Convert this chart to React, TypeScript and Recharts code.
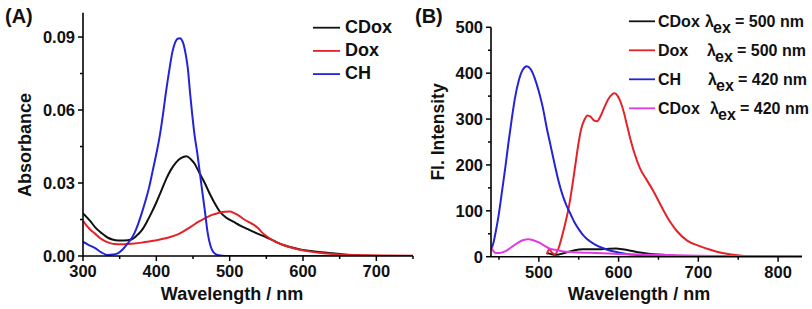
import React from 'react';
import { LineChart, Line, XAxis, YAxis, Legend } from 'recharts';

const FONT = '"Liberation Sans", Arial, Helvetica, sans-serif';

// ---------- Panel A: absorbance (wavelength nm, absorbance) ----------
const absCDox: [number, number][] = [
  [300, 0.0175], [305, 0.016], [310, 0.0143], [316, 0.012], [325, 0.0095], [334, 0.0075],
  [340, 0.0068], [348, 0.0064], [356, 0.0064], [366, 0.0068], [373, 0.0083], [380, 0.0105],
  [387, 0.014], [393, 0.0175], [400, 0.022], [407, 0.027], [414, 0.032], [420, 0.0355],
  [427, 0.0385], [434, 0.0403], [441, 0.041], [447, 0.0398], [452, 0.038], [459, 0.034],
  [466, 0.03], [473, 0.0255], [480, 0.0215], [486, 0.0185], [495, 0.0158], [505, 0.0141],
  [515, 0.0124], [527, 0.0107], [538, 0.0092], [550, 0.0077], [562, 0.006], [573, 0.0045],
  [585, 0.0035], [596, 0.0027], [607, 0.0022], [618, 0.0018], [630, 0.0014], [641, 0.0011],
  [653, 0.0007], [664, 0.0004], [675, 0.0002], [690, 0.0001],
];
const absDox: [number, number][] = [
  [300, 0.0145], [305, 0.0125], [310, 0.0108], [316, 0.0093], [323, 0.0074], [330, 0.0061],
  [337, 0.0053], [343, 0.0049], [352, 0.0048], [361, 0.0049], [370, 0.0051], [380, 0.0055],
  [390, 0.006], [402, 0.0066], [411, 0.0072], [420, 0.0079], [430, 0.009], [439, 0.0105],
  [448, 0.0122], [457, 0.014], [466, 0.0155], [475, 0.0168], [486, 0.0178], [493, 0.0182],
  [500, 0.0183], [507, 0.0175], [514, 0.0163], [520, 0.015], [527, 0.0138], [533, 0.0128],
  [539, 0.0114], [544, 0.0097], [550, 0.0082], [560, 0.0062], [573, 0.0046], [585, 0.0034],
  [596, 0.0026], [610, 0.0018], [625, 0.0012], [641, 0.0008], [660, 0.0005], [686, 0.0003],
  [710, 0.0002], [750, 0.0001],
];
const absCH: [number, number][] = [
  [300, 0.0058], [308, 0.0045], [316, 0.0033], [325, 0.0015], [334, 0.0004], [341, 0.0006],
  [348, 0.0012], [355, 0.003], [361, 0.0052], [366, 0.0072], [370, 0.0093], [375, 0.013],
  [380, 0.0175], [385, 0.0225], [390, 0.028], [395, 0.035], [400, 0.042], [405, 0.05],
  [409, 0.058], [413, 0.067], [418, 0.077], [422, 0.084], [426, 0.088], [429, 0.0893],
  [432, 0.0895], [436, 0.088], [440, 0.083], [443, 0.077], [446, 0.067], [449, 0.058],
  [452, 0.05], [456, 0.042], [459, 0.035], [462, 0.028], [466, 0.019], [470, 0.0095],
  [474, 0.004], [478, 0.0015], [485, 0.0003], [495, 0], [550, 0], [600, 0], [650, 0],
  [700, 0], [750, 0],
];
const absTicks = [0, 0.015, 0.03, 0.045, 0.06, 0.075, 0.09];
const absTickLabels = ['0.00', '', '0.03', '', '0.06', '', '0.09'];
const absWlTicks = [300, 350, 400, 450, 500, 550, 600, 650, 700, 750];
const absWlLabels = ['300', '', '400', '', '500', '', '600', '', '700', ''];

// ---------- Panel B: fluorescence (wavelength nm, intensity) ----------
const flCDox500: [number, number][] = [
  [510, 8], [515, 6], [520, 4], [525, 5], [530, 7], [538, 11], [545, 14], [555, 16],
  [565, 16], [575, 16], [585, 17], [597, 18], [605, 16], [615, 13], [627, 9], [640, 6],
  [656, 4], [670, 2], [690, 1], [720, 0.5], [830, 0],
];
const flDox500: [number, number][] = [
  [510, 5], [513, 16], [516, 10], [520, 5], [525, 20], [529, 44], [533, 72], [538, 112],
  [542, 155], [546, 203], [550, 250], [553, 278], [557, 298], [561, 308], [565, 305],
  [569, 297], [573, 295], [577, 305], [582, 325], [587, 343], [592, 354], [595, 356],
  [599, 350], [603, 335], [607, 312], [611, 283], [615, 255], [620, 225], [627, 192],
  [635, 168], [643, 145], [650, 122], [656, 102], [665, 75], [673, 56], [686, 35],
  [700, 24], [715, 15], [730, 8], [745, 4], [755, 2], [770, 1], [830, 0],
];
const flCH420: [number, number][] = [
  [440, 15], [443, 30], [446, 55], [450, 95], [454, 145], [458, 195], [462, 250], [466, 300],
  [470, 345], [475, 385], [480, 408], [485, 415], [490, 408], [495, 388], [500, 360],
  [505, 325], [510, 280], [515, 240], [520, 200], [525, 163], [530, 133], [535, 110],
  [540, 92], [545, 74], [550, 60], [555, 48], [560, 39], [570, 27], [580, 19], [590, 13],
  [600, 9], [610, 6], [620, 4], [640, 2], [660, 1], [700, 0.5], [750, 0], [830, 0],
];
const flCDox420: [number, number][] = [
  [440, 22], [443, 12], [446, 8], [450, 8], [455, 10], [460, 14], [465, 20], [470, 26],
  [475, 32], [480, 36], [487, 38], [493, 36], [500, 31], [507, 24], [513, 18], [520, 15],
  [529, 12], [540, 10], [551, 9], [572, 8], [600, 6], [620, 5], [650, 4], [700, 2],
  [750, 1], [830, 0.5],
];
const flTicks = [0, 50, 100, 150, 200, 250, 300, 350, 400, 450, 500];
const flTickLabels = ['0', '', '100', '', '200', '', '300', '', '400', '', '500'];
const flWlTicks = [450, 500, 550, 600, 650, 700, 750, 800];
const flWlLabels = ['', '500', '', '600', '', '700', '', '800'];

const toRows = (pts: [number, number][]) => pts.map(([x, y]) => ({ x, y }));

const C_BLACK = '#111111';
const C_RED = '#e42228';
const C_BLUE = '#2424d6';
const C_MAG = '#e23ae2';

const makeXTick = (ticks: number[], labels: string[]) => (props: any) => {
  const { x, y, payload } = props;
  const i = ticks.indexOf(payload.value);
  const lab = i >= 0 ? labels[i] : '';
  return (
    <g>
      <line x1={x} y1={y} x2={x} y2={y + (lab ? 5 : 3)} stroke="#000" strokeWidth={1.5} />
      {lab ? (
        <text x={x} y={y + 21} textAnchor="middle" fontFamily={FONT} fontWeight="bold" fontSize={16.5} fill="#111">
          {lab}
        </text>
      ) : null}
    </g>
  );
};

const makeYTick = (ticks: number[], labels: string[]) => (props: any) => {
  const { x, y, payload } = props;
  const i = ticks.indexOf(payload.value);
  const lab = i >= 0 ? labels[i] : '';
  return (
    <g>
      <line x1={x} y1={y} x2={x - (lab ? 5 : 3)} y2={y} stroke="#000" strokeWidth={1.5} />
      {lab ? (
        <text x={x - 8} y={y + 6} textAnchor="end" fontFamily={FONT} fontWeight="bold" fontSize={16.5} fill="#111">
          {lab}
        </text>
      ) : null}
    </g>
  );
};

const legendA = () => {
  const items = [
    { name: 'CDox', color: C_BLACK },
    { name: 'Dox', color: C_RED },
    { name: 'CH', color: C_BLUE },
  ];
  return (
    <svg width={100} height={80} style={{ display: 'block' }}>
      {items.map((it, i) => (
        <g key={it.name}>
          <line x1={0} x2={27} y1={15.7 + i * 23.2} y2={15.7 + i * 23.2} stroke={it.color} strokeWidth={1.8} />
          <text x={32} y={21.3 + i * 22.7} fontFamily={FONT} fontWeight="bold" fontSize={18} fill="#111">
            {it.name}
          </text>
        </g>
      ))}
    </svg>
  );
};

const legendB = () => {
  const items = [
    { name: 'CDox', color: C_BLACK, ex: '500', lx: 705 },
    { name: 'Dox', color: C_RED, ex: '500', lx: 707 },
    { name: 'CH', color: C_BLUE, ex: '420', lx: 708 },
    { name: 'CDox', color: C_MAG, ex: '420', lx: 710 },
  ];
  const ox = 629;
  return (
    <svg width={183} height={125} style={{ display: 'block' }}>
      {items.map((it, i) => {
        const base = 27.3 + i * 29;
        return (
          <g key={i}>
            <line x1={0} x2={26} y1={base - 6} y2={base - 6} stroke={it.color} strokeWidth={1.8} />
            <text y={base} fontFamily={FONT} fontWeight="bold" fontSize={16} fill="#111">
              <tspan x={658 - ox}>{it.name}</tspan>
              <tspan x={it.lx - ox}>λ</tspan>
              <tspan x={it.lx - ox + 8} dy={6}>ex</tspan>
              <tspan x={it.lx - ox + 30} dy={-6}>= {it.ex} nm</tspan>
            </text>
          </g>
        );
      })}
    </svg>
  );
};

export default function App() {
  return (
    <div style={{ position: 'absolute', left: 0, top: 0, width: 812, height: 309, background: '#fff', overflow: 'hidden' }}>
      <div style={{ position: 'absolute', left: 0, top: 0 }}>
        <LineChart width={420} height={309} margin={{ top: 12.7, right: 7, bottom: 23, left: 23 }}>
          <XAxis
            dataKey="x"
            type="number"
            domain={[300, 750]}
            ticks={absWlTicks}
            interval={0}
            height={30}
            tickSize={0}
            tickMargin={0}
            tickLine={false}
            axisLine={{ stroke: '#000', strokeWidth: 1.6 }}
            tick={makeXTick(absWlTicks, absWlLabels)}
            allowDataOverflow
          />
          <YAxis
            type="number"
            domain={[0, 0.1]}
            ticks={absTicks}
            interval={0}
            width={60}
            tickSize={0}
            tickMargin={0}
            tickLine={false}
            axisLine={{ stroke: '#000', strokeWidth: 1.6 }}
            tick={makeYTick(absTicks, absTickLabels)}
            allowDataOverflow
          />
          <Legend
            layout="vertical"
            align="center"
            verticalAlign="middle"
            content={legendA}
            wrapperStyle={{ left: 313, top: 12, width: 100, height: 80 }}
          />
          <Line data={toRows(absCDox)} dataKey="y" name="CDox" type="monotone" stroke={C_BLACK} strokeWidth={2} dot={false} isAnimationActive={false} />
          <Line data={toRows(absDox)} dataKey="y" name="Dox" type="monotone" stroke={C_RED} strokeWidth={2} dot={false} isAnimationActive={false} />
          <Line data={toRows(absCH)} dataKey="y" name="CH" type="monotone" stroke={C_BLUE} strokeWidth={2} dot={false} isAnimationActive={false} />
        </LineChart>
      </div>
      <div style={{ position: 'absolute', left: 400, top: 0 }}>
        <LineChart width={412} height={309} margin={{ top: 27.3, right: 10, bottom: 22.3, left: 31 }}>
          <XAxis
            dataKey="x"
            type="number"
            domain={[440, 830]}
            ticks={flWlTicks}
            interval={0}
            height={30}
            tickSize={0}
            tickMargin={0}
            tickLine={false}
            axisLine={{ stroke: '#000', strokeWidth: 1.6 }}
            tick={makeXTick(flWlTicks, flWlLabels)}
            allowDataOverflow
          />
          <YAxis
            type="number"
            domain={[0, 500]}
            ticks={flTicks}
            interval={0}
            width={60}
            tickSize={0}
            tickMargin={0}
            tickLine={false}
            axisLine={{ stroke: '#000', strokeWidth: 1.6 }}
            tick={makeYTick(flTicks, flTickLabels)}
            allowDataOverflow
          />
          <Legend
            layout="vertical"
            align="center"
            verticalAlign="middle"
            content={legendB}
            wrapperStyle={{ left: 229, top: 0, width: 183, height: 125 }}
          />
          <Line data={toRows(flCDox500)} dataKey="y" name="CDox 500" type="monotone" stroke={C_BLACK} strokeWidth={2} dot={false} isAnimationActive={false} />
          <Line data={toRows(flDox500)} dataKey="y" name="Dox 500" type="monotone" stroke={C_RED} strokeWidth={2} dot={false} isAnimationActive={false} />
          <Line data={toRows(flCH420)} dataKey="y" name="CH 420" type="monotone" stroke={C_BLUE} strokeWidth={2} dot={false} isAnimationActive={false} />
          <Line data={toRows(flCDox420)} dataKey="y" name="CDox 420" type="monotone" stroke={C_MAG} strokeWidth={2} dot={false} isAnimationActive={false} />
        </LineChart>
      </div>
      <svg width={812} height={309} style={{ position: 'absolute', left: 0, top: 0, pointerEvents: 'none' }}>
        <g fontFamily={FONT} fontWeight="bold" fill="#111">
          <text x={5} y={23} fontSize={20}>(A)</text>
          <text x={415} y={23} fontSize={20}>(B)</text>
          <text x={232} y={299.5} fontSize={18} textAnchor="middle">Wavelength / nm</text>
          <text x={639} y={299.5} fontSize={18} textAnchor="middle">Wavelength / nm</text>
          <text transform="translate(31,145) rotate(-90)" fontSize={18} textAnchor="middle">Absorbance</text>
          <text transform="translate(444,132) rotate(-90)" fontSize={17.5} textAnchor="middle">Fl. Intensity</text>
        </g>
      </svg>
    </div>
  );
}
